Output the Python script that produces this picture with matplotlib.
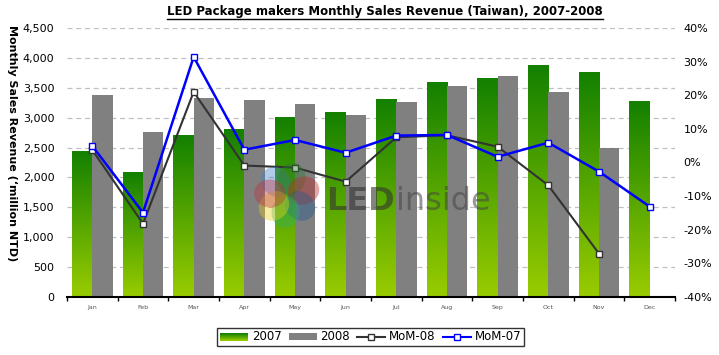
import numpy as np
import matplotlib
matplotlib.use("Agg")
import matplotlib.pyplot as plt
from matplotlib.patches import Rectangle, Ellipse
from matplotlib.legend_handler import HandlerBase
from matplotlib.lines import Line2D
from matplotlib.colors import LinearSegmentedColormap

months = ["Jan", "Feb", "Mar", "Apr", "May", "Jun", "Jul", "Aug", "Sep", "Oct", "Nov", "Dec"]
rev_2007 = [2440, 2080, 2710, 2810, 2995, 3080, 3310, 3580, 3650, 3865, 3750, 3265]
rev_2008 = [3380, 2760, 3335, 3295, 3230, 3045, 3265, 3530, 3700, 3430, 2490]
mom_08 = [3.7, -18.2, 21.0, -0.9, -1.5, -5.7, 7.5, 8.1, 4.7, -6.8, -27.1]
mom_07 = [4.9, -14.9, 31.4, 3.8, 6.7, 2.9, 8.0, 8.2, 1.7, 5.9, -2.7, -13.1]

W, H = 719, 355
fig = plt.figure(figsize=(W / 100, H / 100), dpi=100)
ax = fig.add_axes([67 / W, 1 - 297 / H, (675 - 67) / W, (297 - 28) / H])
ax2 = ax.twinx()

green_top = "#138000"
green_bot = "#99cc00"
gray = "#808080"
cmap = LinearSegmentedColormap.from_list("g", [green_bot, green_top])
grad = np.linspace(0, 1, 256).reshape(-1, 1)

x = np.arange(len(months))
bw = 0.4

for i, v in enumerate(rev_2007):
    x0 = x[i] - bw
    ax.imshow(grad, extent=[x0, x0 + bw, 0, v], origin="lower", cmap=cmap,
              aspect="auto", zorder=2, interpolation="bilinear")
for i, v in enumerate(rev_2008):
    ax.bar(x[i], v, width=bw, align="edge", color=gray, zorder=2, linewidth=0)

ax.set_xlim(-0.5, len(months) - 0.5)
ax.set_ylim(0, 4500)

ax.set_yticks(np.arange(0, 4501, 500))
ax.set_yticklabels([f"{v:,}" for v in range(0, 4501, 500)], fontsize=8)
ax.yaxis.grid(True, linestyle=(0, (4, 3)), color="#c0c0c0", linewidth=0.9, zorder=0)
ax.set_axisbelow(True)
ax.tick_params(axis="y", length=0, pad=9)
ax.set_xticks(x)
ax.set_xticklabels(months, fontsize=4.5, color="#555555")
ax.tick_params(axis="x", which="major", length=0, pad=6)
ax.set_xticks(np.arange(-0.5, len(months), 1), minor=True)
ax.tick_params(axis="x", which="minor", length=3, width=1, color="black", direction="out")
for s in ["top", "right", "left"]:
    ax.spines[s].set_visible(False)
ax.spines["bottom"].set_linewidth(1.5)

fig.text(12 / W, 1 - 143 / H, "Monthly Sales Revenue (\u2018million NTD)", fontsize=8,
         fontweight="bold", rotation=-90, ha="center", va="center")

ax2.set_ylim(-40, 40)
ax2.set_yticks(np.arange(-40, 41, 10))
ax2.set_yticklabels([f"{v}%" for v in range(-40, 41, 10)], fontsize=8)
ax2.tick_params(axis="y", length=0, pad=6)
for s in ["top", "right", "left", "bottom"]:
    ax2.spines[s].set_visible(False)

ax2.plot(x[:len(mom_08)], mom_08, color="#333333", lw=1.5, marker="s", ms=5,
         mfc="white", mec="#333333", mew=1, zorder=3)
ax2.plot(x, mom_07, color="#0000ff", lw=1.8, marker="s", ms=5,
         mfc="white", mec="#0000ff", mew=1, zorder=4)

# watermark logo
wm_ax = fig.add_axes([0, 0, 1, 1], facecolor="none")
wm_ax.set_xlim(0, W)
wm_ax.set_ylim(H, 0)
wm_ax.axis("off")
cx0, cy0 = 287, 195
petal_cols = ["#3a80c8", "#2a7a30", "#c02828", "#1f5a90", "#30b070", "#e8d020", "#c03040"]
angles = np.deg2rad([-130, -75, -15, 40, 95, 140, 185])
for a, c in zip(angles, petal_cols):
    px, py = cx0 + 17 * np.cos(a), cy0 + 17 * np.sin(a)
    wm_ax.add_patch(Ellipse((px, py), 32, 28, angle=np.rad2deg(a), color=c, alpha=0.4, lw=0))
t_led = wm_ax.text(326, 210, "LED", fontsize=23, fontweight="bold", color="#333333", alpha=0.6,
                   va="baseline", ha="left")

# legend
class GradHandler(HandlerBase):
    def create_artists(self, legend, orig, xd, yd, width, height, fontsize, trans):
        arts = []
        n = 8
        for k in range(n):
            c = cmap(1 - k / (n - 1))
            arts.append(Rectangle((xd, yd + height - (k + 1) * height / n), width, height / n,
                                  facecolor=c, edgecolor="none", transform=trans))
        return arts

h2007 = Rectangle((0, 0), 1, 1)
h2008 = Rectangle((0, 0), 1, 1, facecolor=gray)
h08 = Line2D([], [], color="#333333", lw=1.5, marker="s", ms=4, mfc="white", mec="#333333")
h07 = Line2D([], [], color="#0000ff", lw=1.5, marker="s", ms=4, mfc="white", mec="#0000ff")
leg = fig.legend([h2007, h2008, h08, h07], ["2007", "2008", "MoM-08", "MoM-07"],
                 handler_map={h2007: GradHandler()}, ncol=4, loc="center",
                 bbox_to_anchor=(370.5 / W, 1 - 337 / H), fontsize=8.5, frameon=True,
                 fancybox=False, edgecolor="black", handlelength=2.4, handleheight=0.6,
                 handletextpad=0.3, columnspacing=0.6, borderpad=0.25, borderaxespad=0)
leg.get_frame().set_linewidth(1)

title = fig.text(385 / W, 1 - 11 / H, "LED Package makers Monthly Sales Revenue (Taiwan), 2007-2008",
                 ha="center", va="center", fontsize=8.5, fontweight="bold")
fig.canvas.draw()
bb_led = t_led.get_window_extent()
wm_ax.text(bb_led.x1 + 1, 210, "inside", fontsize=23, color="#444444", alpha=0.55,
           va="baseline", ha="left")
bb = title.get_window_extent()
y_ul = (bb.y0 - 1) / H
fig.add_artist(Line2D([bb.x0 / W, bb.x1 / W], [y_ul, y_ul], color="black", lw=1,
                      transform=fig.transFigure))

fig.savefig("out.png", dpi=100)
